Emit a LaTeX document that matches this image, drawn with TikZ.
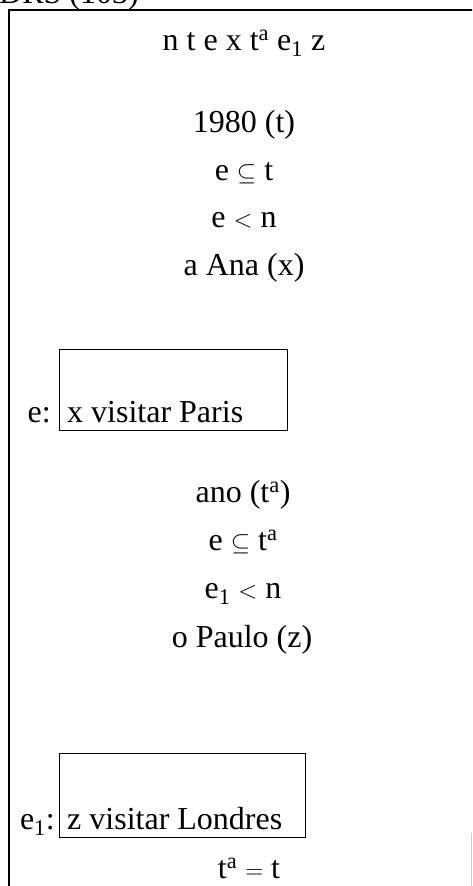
\documentclass[tikz,border=0pt]{standalone}
\usepackage{fontspec}
\setmainfont{Liberation Serif}
\begin{document}
\begin{tikzpicture}[x=1pt,y=-1pt,
  txt/.style={inner sep=0pt,anchor=base,font=\fontsize{32}{37}\selectfont},
  lbl/.style={inner sep=0pt,anchor=base east,font=\fontsize{32}{37}\selectfont},
  drsbox/.style={draw,line width=1.3pt,anchor=north west,inner sep=0pt},
  frame/.style={line width=1.8pt}]
\useasboundingbox (0,0) rectangle (472,886);
\clip (0,0) rectangle (472,886);
% header (clipped at the top edge, as in the reference)
\node[txt,anchor=base west] (hdr) at (-1,3) {DRS (103)};
% outer frame
\coordinate (ftl) at (9,10);
\coordinate (ftr) at (480,10);
\coordinate (fbl) at (9,900);
\draw[frame] (fbl) -- (ftl) -- (ftr);
\coordinate (rtop) at (471,833);
\coordinate (rbot) at (471,890);
\draw[gray!40,line width=0.6pt] (rtop) -- (rbot);
% universe
\node[txt] (univ) at (244,50) {n t e x t\textsuperscript{a} e\textsubscript{1} z};
% conditions
\node[txt] (c1) at (244,132) {1980 (t)};
\node[txt] (c2) at (244,180) {e $\subseteq$ t};
\node[txt] (c3) at (244,227) {e $<$ n};
\node[txt] (c4) at (244,275) {a Ana (x)};
% box e
\node[drsbox,minimum width=228pt,minimum height=81pt] (boxe) at (59,349) {};
\node[lbl] (le) at (51,422) {e:};
\node[txt,anchor=base west] (te) at (67,422) {x visitar Paris};
% second group
\node[txt] (d1) at (243,502) {ano (t\textsuperscript{a})};
\node[txt] (d2) at (243,550) {e $\subseteq$ t\textsuperscript{a}};
\node[txt] (d3) at (243,598) {e\textsubscript{1} $<$ n};
\node[txt] (d4) at (242,647) {o Paulo (z)};
% box e1
\node[drsbox,minimum width=246pt,minimum height=84pt] (boxe1) at (59,753) {};
\node[lbl] (le1) at (55,829) {e\textsubscript{1}:};
\node[txt,anchor=base west] (te1) at (67,829) {z visitar Londres};
\node[txt] (last) at (249,878) {t\textsuperscript{a} $=$ t};
\end{tikzpicture}
\end{document}
